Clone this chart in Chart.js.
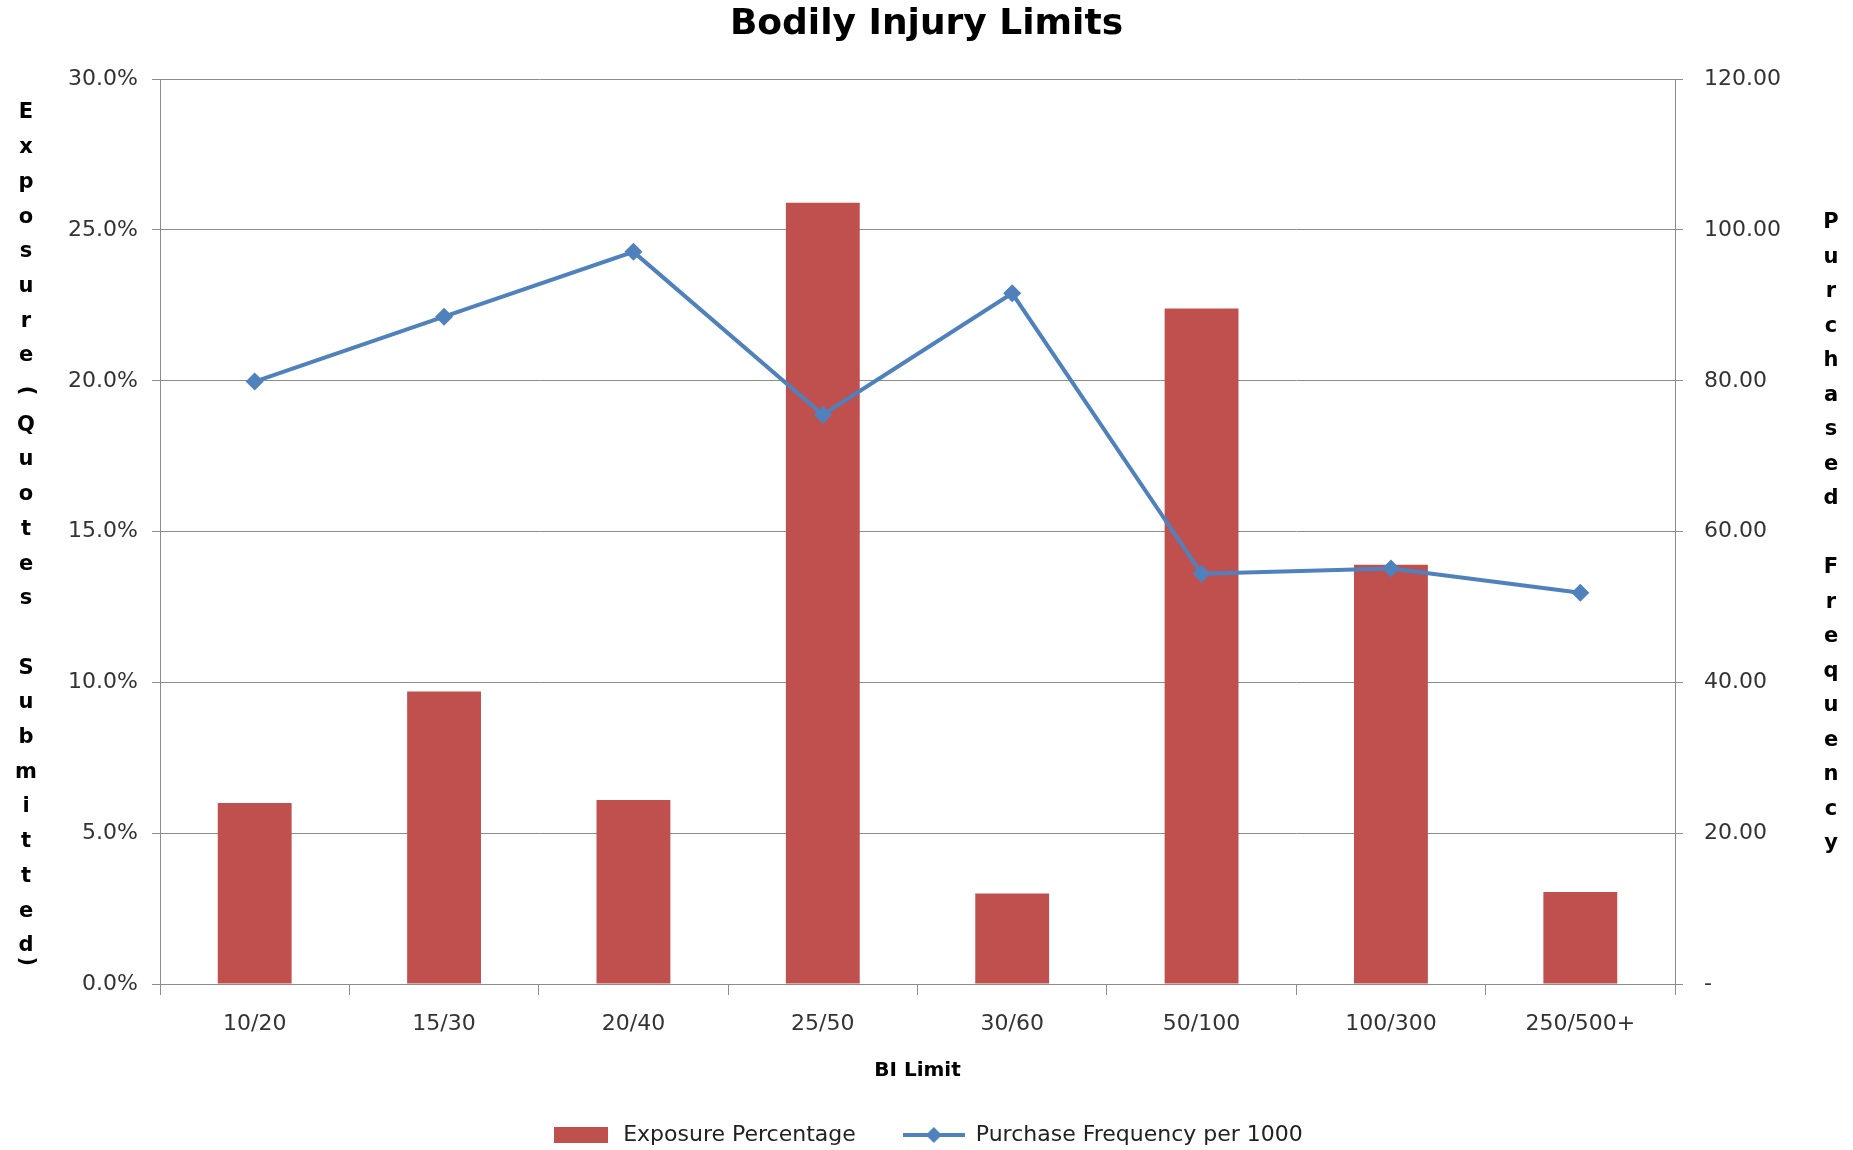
<!DOCTYPE html>
<html>
<head>
<meta charset="utf-8">
<title>Bodily Injury Limits</title>
<script src="https://cdn.jsdelivr.net/npm/chart.js@4"></script>
<style>
  html, body { margin: 0; padding: 0; background: #fff; }
  #wrap { width: 1853px; height: 1150px; }
</style>
</head>
<body>
<div id="wrap"><canvas id="chart" width="1853" height="1150"></canvas></div>
<script>
const limits = ['10/20', '15/30', '20/40', '25/50', '30/60', '50/100', '100/300', '250/500+'];
const exposurePct = [6.0, 9.7, 6.1, 25.9, 3.0, 22.4, 13.9, 3.05];
const purchaseFreq = [79.9, 88.5, 97.1, 75.5, 91.6, 54.4, 55.1, 51.9];

const RED = '#C0504D';
const BLUE = '#4F81BD';
const GRID = '#8c8c8c';
const TICK_FONT = { family: 'DejaVu Sans', size: 22 };

// legend swatches: plain box for the bars, line with a diamond for the series
function swatch(w, h, draw) {
  const c = document.createElement('canvas');
  c.width = w; c.height = h;
  draw(c.getContext('2d'));
  return c;
}
const barSwatch = swatch(54, 16, g => {
  g.fillStyle = RED;
  g.fillRect(0, 0, 54, 16);
});
const lineSwatch = swatch(62, 18, g => {
  g.strokeStyle = BLUE;
  g.lineWidth = 4;
  g.beginPath(); g.moveTo(0, 9); g.lineTo(62, 9); g.stroke();
  g.fillStyle = BLUE;
  g.beginPath();
  g.moveTo(31, 1); g.lineTo(39, 9); g.lineTo(31, 17); g.lineTo(23, 9);
  g.closePath(); g.fill();
});

// axis titles written one letter per line, parentheses turned sideways
function stackedText(ctx, text, x, y0, step) {
  let y = y0;
  [...text].forEach((ch, i) => {
    if (ch === ' ' && text[i + 1] === '(') return;
    if (ch === ')') y -= step * 0.55;
    ctx.save();
    ctx.translate(x, y);
    if (ch === '(' || ch === ')') ctx.rotate(Math.PI / 2);
    ctx.fillText(ch, 0, 0);
    ctx.restore();
    y += step;
  });
}

const stackedTitles = {
  id: 'stackedTitles',
  afterDraw(chart) {
    const ctx = chart.ctx;
    ctx.save();
    ctx.font = 'bold 21px "DejaVu Sans"';
    ctx.fillStyle = '#000';
    ctx.textAlign = 'center';
    ctx.textBaseline = 'middle';
    stackedText(ctx, 'Exposure (Quotes Submitted)', 26, 113, 34.7);
    stackedText(ctx, 'Purchased Frequency', 1831, 223, 34.5);
    ctx.restore();
  }
};

new Chart(document.getElementById('chart'), {
  type: 'bar',
  data: {
    labels: limits,
    datasets: [
      {
        label: 'Exposure Percentage',
        data: exposurePct,
        backgroundColor: RED,
        yAxisID: 'y',
        order: 1,
        categoryPercentage: 1,
        barPercentage: 0.39
      },
      {
        type: 'line',
        label: 'Purchase Frequency per 1000',
        data: purchaseFreq,
        borderColor: BLUE,
        backgroundColor: BLUE,
        borderWidth: 4,
        pointStyle: 'rectRot',
        pointRadius: 9,
        pointBorderWidth: 0,
        yAxisID: 'y1',
        order: 0,
        tension: 0
      }
    ]
  },
  options: {
    responsive: false,
    animation: false,
    layout: { padding: { left: 0, right: 0, top: 0, bottom: -6 } },
    plugins: {
      title: {
        display: true,
        text: 'Bodily Injury Limits',
        color: '#000',
        font: { family: 'DejaVu Sans', size: 36, weight: 'bold', lineHeight: 1.2 },
        padding: { top: 3, bottom: 33 }
      },
      legend: {
        position: 'bottom',
        labels: {
          color: '#222',
          font: { family: 'DejaVu Sans', size: 22 },
          usePointStyle: true,
          pointStyleWidth: 62,
          padding: 47,
          generateLabels(chart) {
            const items = Chart.defaults.plugins.legend.labels.generateLabels(chart);
            items.sort((a, b) => a.datasetIndex - b.datasetIndex);
            items.forEach(it => {
              it.pointStyle = it.datasetIndex === 0 ? barSwatch : lineSwatch;
            });
            return items;
          }
        }
      },
      tooltip: { enabled: false }
    },
    scales: {
      x: {
        grid: {
          display: true,
          drawOnChartArea: false,
          drawTicks: true,
          tickLength: 11,
          offset: true,
          color: GRID
        },
        border: { color: GRID },
        ticks: { color: '#333', font: TICK_FONT, padding: 16, maxRotation: 0 },
        title: {
          display: true,
          text: 'BI Limit',
          color: '#000',
          font: { family: 'DejaVu Sans', size: 20, weight: 'bold' },
          padding: { top: 0, bottom: -6 }
        },
        afterFit(scale) { scale.height = 93; }
      },
      y: {
        position: 'left',
        min: 0,
        max: 30,
        ticks: {
          stepSize: 5,
          color: '#333',
          font: TICK_FONT,
          padding: 14,
          callback: v => v.toFixed(1) + '%'
        },
        grid: { color: GRID, tickLength: 8 },
        border: { color: GRID },
        afterFit(scale) { scale.width = 160; }
      },
      y1: {
        position: 'right',
        min: 0,
        max: 120,
        ticks: {
          stepSize: 20,
          color: '#333',
          font: TICK_FONT,
          padding: 21,
          callback: v => v === 0 ? '-' : v.toFixed(2)
        },
        grid: { drawOnChartArea: false, color: GRID, tickLength: 8 },
        border: { color: GRID },
        afterFit(scale) { scale.width = 178; }
      }
    }
  },
  plugins: [stackedTitles]
});
</script>
</body>
</html>
